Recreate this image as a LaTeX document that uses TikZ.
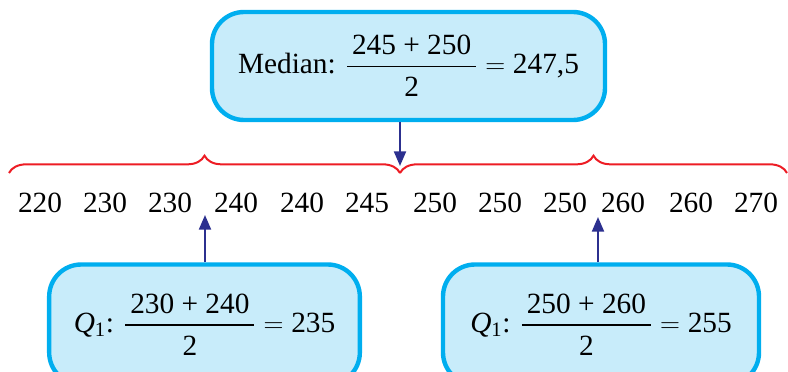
\documentclass[tikz,border=0pt]{standalone}
\usepackage{amsmath}
\usepackage{fontspec}
\setmainfont{Liberation Serif}
\usepackage{xcolor}
\usetikzlibrary{decorations.pathreplacing,arrows.meta}

\definecolor{boxline}{RGB}{0,174,239}
\definecolor{boxfill}{RGB}{200,236,250}
\definecolor{arrowblue}{RGB}{44,48,143}
\definecolor{bracered}{RGB}{237,28,36}

% fraction with a heavier bar and a little more air
\newcommand{\avgfrac}[2]{\genfrac{}{}{1.3pt}{0}{\text{\,#1\,}\rule[-3pt]{0pt}{3pt}}{\rule{0pt}{18pt}\text{#2}}}

\begin{document}
\begin{tikzpicture}[x=0.75pt,y=-0.75pt,font=\fontsize{22}{26}\selectfont,
  rbox/.style={draw=boxline,fill=boxfill,line width=3.3pt,rounded corners=24pt,inner sep=0pt},
  up/.style={arrowblue,line width=1.6pt,-{Triangle[length=11pt,width=9pt]}},
  brc/.style={bracered,line width=1.5pt,decorate,decoration={brace,amplitude=13pt}}]
  \useasboundingbox (0,0) rectangle (788,371);
  % the data row
  \foreach \x/\v [count=\i] in {40/220,105/230,170/230,236/240,302/240,367/245,435/250,500/250,565/250,623/260,691/260,756/270} {
    \node (n\i) at (\x,203) {\v};
  }
  % braces over both halves
  \coordinate (bl) at (9,173); \coordinate (bm) at (400,173); \coordinate (br) at (787,173);
  \draw[brc] (bl) -- (bm);
  \draw[brc] (bm) -- (br);
  % median box
  \node[rbox,minimum width=294.75pt,minimum height=81pt] (median) at (408.5,66)
    {Median: $\avgfrac{245 + 250}{2}=\text{247,5}$};
  \coordinate (mtip) at (400,166);
  \draw[up] (median.south -| mtip) -- (mtip);
  % quartile boxes, cut off at the bottom
  \node[rbox,minimum width=233pt,minimum height=90pt] (qlow) at (204.5,324.5)
    {\textit{Q}$_{\text{1}}$: $\avgfrac{230 + 240}{2}=\text{235}$};
  \node[rbox,minimum width=237pt,minimum height=90pt] (qhigh) at (601,324.5)
    {\textit{Q}$_{\text{1}}$: $\avgfrac{250 + 260}{2}=\text{255}$};
  \coordinate (ltip) at (205,215); \coordinate (rtip) at (598,217);
  \draw[up] (qlow.north -| ltip) -- (ltip);
  \draw[up] (qhigh.north -| rtip) -- (rtip);
\end{tikzpicture}
\end{document}
